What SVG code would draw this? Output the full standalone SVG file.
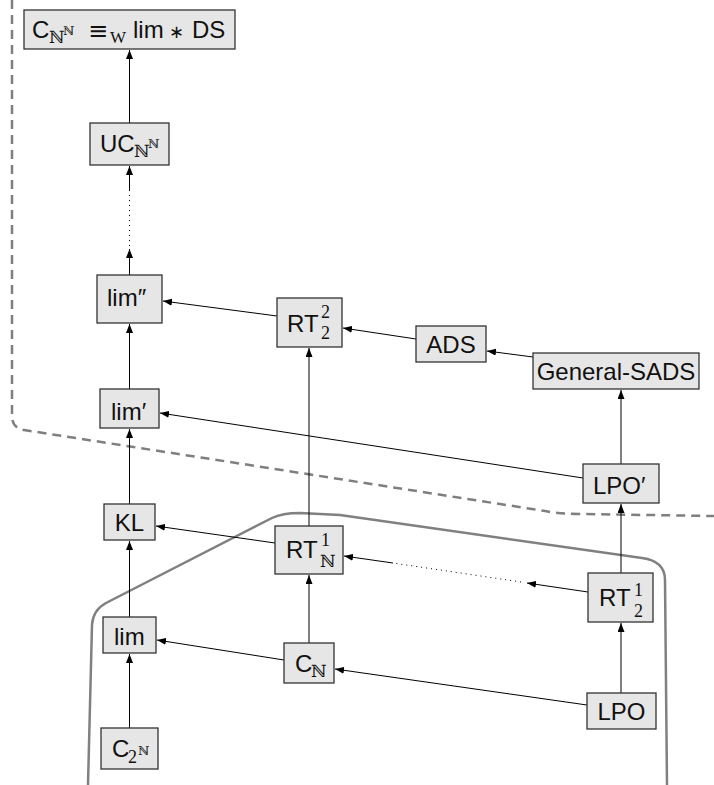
<svg xmlns="http://www.w3.org/2000/svg" width="714" height="785" viewBox="0 0 714 785">
<style>
.box{fill:#e6e6e6;stroke:#333;stroke-width:1.3}
.lbl{font-family:"Liberation Sans",Arial,"DejaVu Sans",sans-serif;font-size:24px;fill:#111}
.bb{font-family:"DejaVu Serif",serif}
.num{font-family:"Liberation Serif","DejaVu Serif",serif}
.sym{font-family:"DejaVu Sans",sans-serif}
.e{stroke:#000;stroke-width:1;fill:none}
.dot{stroke:#000;stroke-width:1;stroke-dasharray:1 4;fill:none}
.hull{stroke:#808080;stroke-width:2.5;fill:none}
.region{stroke:#7f7f7f;stroke-width:2.5;fill:none;stroke-dasharray:9 6}
</style>
<defs>
<marker id="ah" markerUnits="userSpaceOnUse" markerWidth="10" markerHeight="8" refX="9" refY="3.5" orient="auto">
<path d="M0,0 L9,3.5 L0,7 z" fill="#000"/>
</marker>
</defs>
<g id="regions">
<path class="region" d="M12,0 V416 Q12,428 24,430 L545,511 Q560,514 580,514 L714,516"/>
<path class="hull" d="M88,785 L92,625 Q93,610 106,603 L272,518 Q282,513 300,513 L340,515 L642,558 Q665,561 665,580 L667,785"/>
</g>
<g id="connectors">
<line class="e" x1="129.5" y1="123" x2="129.5" y2="50" marker-end="url(#ah)"/>
<line class="e" x1="129.5" y1="275" x2="129.5" y2="249" marker-end="url(#ah)"/>
<line class="dot" x1="129.5" y1="246" x2="129.5" y2="191"/>
<line class="e" x1="129.5" y1="191" x2="129.5" y2="166" marker-end="url(#ah)"/>
<line class="e" x1="129.5" y1="389" x2="129.5" y2="324" marker-end="url(#ah)"/>
<line class="e" x1="129.5" y1="504" x2="129.5" y2="429" marker-end="url(#ah)"/>
<line class="e" x1="129.5" y1="617" x2="129.5" y2="541" marker-end="url(#ah)"/>
<line class="e" x1="129.5" y1="728" x2="129.5" y2="654" marker-end="url(#ah)"/>
<line class="e" x1="277" y1="316" x2="163" y2="301" marker-end="url(#ah)"/>
<line class="e" x1="416" y1="339" x2="343" y2="328" marker-end="url(#ah)"/>
<line class="e" x1="533" y1="357" x2="487" y2="351" marker-end="url(#ah)"/>
<line class="e" x1="621" y1="464" x2="621" y2="390" marker-end="url(#ah)"/>
<line class="e" x1="583" y1="478" x2="160" y2="413" marker-end="url(#ah)"/>
<line class="e" x1="309" y1="526" x2="309" y2="348" marker-end="url(#ah)"/>
<line class="e" x1="275" y1="543" x2="156" y2="526" marker-end="url(#ah)"/>
<line class="e" x1="588" y1="592" x2="527" y2="583" marker-end="url(#ah)"/>
<line class="dot" x1="521" y1="582" x2="393" y2="563"/>
<line class="e" x1="393" y1="563" x2="344" y2="556" marker-end="url(#ah)"/>
<line class="e" x1="621" y1="573" x2="621" y2="504" marker-end="url(#ah)"/>
<line class="e" x1="621" y1="693" x2="621" y2="623" marker-end="url(#ah)"/>
<line class="e" x1="309" y1="643" x2="309" y2="575" marker-end="url(#ah)"/>
<line class="e" x1="284" y1="660" x2="157" y2="640" marker-end="url(#ah)"/>
<line class="e" x1="587" y1="705" x2="335" y2="669" marker-end="url(#ah)"/>
</g>
<g id="n-top">
<rect class="box" x="24" y="10" width="211" height="39"/>
<text class="lbl"><tspan x="32" y="38">C</tspan><tspan class="bb" x="49" y="43" style="font-size:17px">ℕ</tspan><tspan class="bb" x="63" y="35" style="font-size:12px">ℕ</tspan><tspan class="sym" x="88" y="39" style="font-size:24px">≡</tspan><tspan class="num" x="110" y="43" style="font-size:17px">W</tspan><tspan x="133" y="38">lim</tspan><tspan class="sym" x="169" y="38" style="font-size:18px">∗</tspan><tspan x="192" y="38">DS</tspan></text>
</g>
<g id="n-uc">
<rect class="box" x="90" y="123" width="79" height="42"/>
<text class="lbl"><tspan x="100" y="152">UC</tspan><tspan class="bb" x="134" y="157" style="font-size:17px">ℕ</tspan><tspan class="bb" x="148" y="148" style="font-size:12px">ℕ</tspan></text>
</g>
<g id="n-limpp">
<rect class="box" x="97" y="275" width="65" height="48"/>
<text class="lbl" x="107" y="306">lim″</text>
</g>
<g id="n-rt22">
<rect class="box" x="277" y="298" width="65" height="49"/>
<text class="lbl"><tspan x="287" y="332">RT</tspan><tspan class="num" x="321" y="318" style="font-size:18px">2</tspan><tspan class="num" x="321" y="339" style="font-size:18px">2</tspan></text>
</g>
<g id="n-ads">
<rect class="box" x="416" y="326" width="70" height="36"/>
<text class="lbl" x="451" y="353" text-anchor="middle">ADS</text>
</g>
<g id="n-gsads">
<rect class="box" x="533" y="353" width="166" height="36"/>
<text class="lbl" x="616" y="380" text-anchor="middle">General-SADS</text>
</g>
<g id="n-limp">
<rect class="box" x="100" y="389" width="59" height="39"/>
<text class="lbl" x="111" y="420">lim′</text>
</g>
<g id="n-lpop">
<rect class="box" x="583" y="464" width="76" height="39"/>
<text class="lbl" x="593" y="494">LPO′</text>
</g>
<g id="n-kl">
<rect class="box" x="104" y="504" width="51" height="36"/>
<text class="lbl" x="129.5" y="531" text-anchor="middle">KL</text>
</g>
<g id="n-rt1n">
<rect class="box" x="275" y="526" width="68" height="48"/>
<text class="lbl"><tspan x="286" y="558">RT</tspan><tspan class="num" x="321" y="546" style="font-size:18px">1</tspan><tspan class="bb" x="320" y="567" style="font-size:17px">ℕ</tspan></text>
</g>
<g id="n-rt12">
<rect class="box" x="588" y="573" width="65" height="49"/>
<text class="lbl"><tspan x="599" y="606">RT</tspan><tspan class="num" x="634" y="596" style="font-size:18px">1</tspan><tspan class="num" x="634" y="617" style="font-size:18px">2</tspan></text>
</g>
<g id="n-lim">
<rect class="box" x="103" y="617" width="53" height="36"/>
<text class="lbl" x="114" y="645">lim</text>
</g>
<g id="n-cn">
<rect class="box" x="284" y="643" width="50" height="40"/>
<text class="lbl"><tspan x="295" y="672">C</tspan><tspan class="bb" x="311" y="677" style="font-size:17px">ℕ</tspan></text>
</g>
<g id="n-c2n">
<rect class="box" x="101" y="728" width="57" height="41"/>
<text class="lbl"><tspan x="112" y="757">C</tspan><tspan class="num" x="128" y="763" style="font-size:18px">2</tspan><tspan class="bb" x="138" y="755" style="font-size:12px">ℕ</tspan></text>
</g>
<g id="n-lpo">
<rect class="box" x="587" y="693" width="69" height="36"/>
<text class="lbl" x="621.5" y="720" text-anchor="middle">LPO</text>
</g>
</svg>
